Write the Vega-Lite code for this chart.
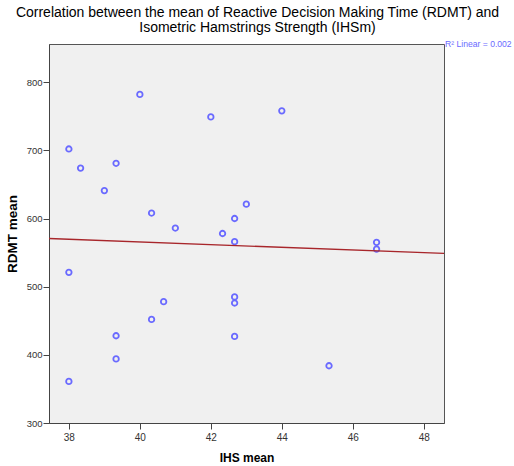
{
  "$schema": "https://vega.github.io/schema/vega-lite/v6.json",
  "autosize": {"type": "none"},
  "padding": {"left": 49, "top": 44, "right": 70, "bottom": 43},
  "width": 395,
  "height": 379,
  "background": "white",
  "config": {
    "font": "Liberation Sans",
    "view": {"fill": "#f0f0f0", "stroke": "#555555", "strokeWidth": 1}
  },
  "title": {
    "text": ["Correlation between the mean of Reactive Decision Making Time (RDMT) and", "Isometric Hamstrings Strength (IHSm)"],
    "font": "Liberation Sans",
    "fontSize": 14,
    "fontWeight": "normal",
    "color": "#000000",
    "lineHeight": 15,
    "anchor": "middle",
    "dx": 11,
    "offset": 5
  },
  "data": {
    "values": [
      {"IHS": 38.0, "RDMT": 702},
      {"IHS": 38.33, "RDMT": 674},
      {"IHS": 39.0, "RDMT": 641},
      {"IHS": 39.33, "RDMT": 681},
      {"IHS": 38.0, "RDMT": 521},
      {"IHS": 39.33, "RDMT": 428},
      {"IHS": 39.33, "RDMT": 394},
      {"IHS": 38.0, "RDMT": 361},
      {"IHS": 40.0, "RDMT": 782},
      {"IHS": 42.0, "RDMT": 749},
      {"IHS": 40.33, "RDMT": 608},
      {"IHS": 41.0, "RDMT": 586},
      {"IHS": 43.0, "RDMT": 621},
      {"IHS": 42.67, "RDMT": 600},
      {"IHS": 42.33, "RDMT": 578},
      {"IHS": 42.67, "RDMT": 566},
      {"IHS": 44.0, "RDMT": 758},
      {"IHS": 46.67, "RDMT": 565},
      {"IHS": 46.67, "RDMT": 555},
      {"IHS": 40.67, "RDMT": 478},
      {"IHS": 40.33, "RDMT": 452},
      {"IHS": 42.67, "RDMT": 485},
      {"IHS": 42.67, "RDMT": 476},
      {"IHS": 42.67, "RDMT": 427},
      {"IHS": 45.33, "RDMT": 384}
    ]
  },
  "layer": [
    {
      "mark": {"type": "point", "shape": "circle", "filled": false, "color": "#6a6aff", "strokeWidth": 1.8, "size": 30, "opacity": 1},
      "encoding": {
        "x": {
          "field": "IHS", "type": "quantitative",
          "scale": {"domain": [37.44, 48.57], "nice": false, "zero": false},
          "axis": {
            "title": "IHS mean", "values": [38, 40, 42, 44, 46, 48], "grid": false,
            "domainColor": "#444444", "tickColor": "#444444", "tickSize": 6,
            "labelFont": "Liberation Sans", "labelFontSize": 10, "labelColor": "#333333", "labelPadding": 3,
            "titleFont": "Liberation Sans", "titleFontSize": 12, "titleFontWeight": "bold", "titleColor": "#000000", "titlePadding": 10
          }
        },
        "y": {
          "field": "RDMT", "type": "quantitative",
          "scale": {"domain": [300, 856], "nice": false, "zero": false},
          "axis": {
            "title": "RDMT mean", "values": [300, 400, 500, 600, 700, 800], "grid": false,
            "domainColor": "#444444", "tickColor": "#444444", "tickSize": 6,
            "labelFont": "Liberation Sans", "labelFontSize": 9.5, "labelColor": "#333333", "labelPadding": 1,
            "titleFont": "Liberation Sans", "titleFontSize": 13.5, "titleFontWeight": "bold", "titleColor": "#000000", "titlePadding": 7
          }
        }
      }
    },
    {
      "transform": [{"regression": "RDMT", "on": "IHS", "extent": [37.44, 48.57]}],
      "mark": {"type": "line", "color": "#a8262b", "strokeWidth": 1.3, "clip": true},
      "encoding": {
        "x": {"field": "IHS", "type": "quantitative"},
        "y": {"field": "RDMT", "type": "quantitative"}
      }
    },
    {
      "data": {"values": [{"label": "R² Linear = 0.002", "xpos": 48.57, "ypos": 856}]},
      "mark": {"type": "text", "align": "left", "baseline": "middle", "color": "#6a6aff", "font": "Liberation Sans", "fontSize": 8.6, "dx": 1, "dy": 0},
      "encoding": {
        "x": {"field": "xpos", "type": "quantitative"},
        "y": {"field": "ypos", "type": "quantitative"},
        "text": {"field": "label"}
      }
    }
  ]
}
